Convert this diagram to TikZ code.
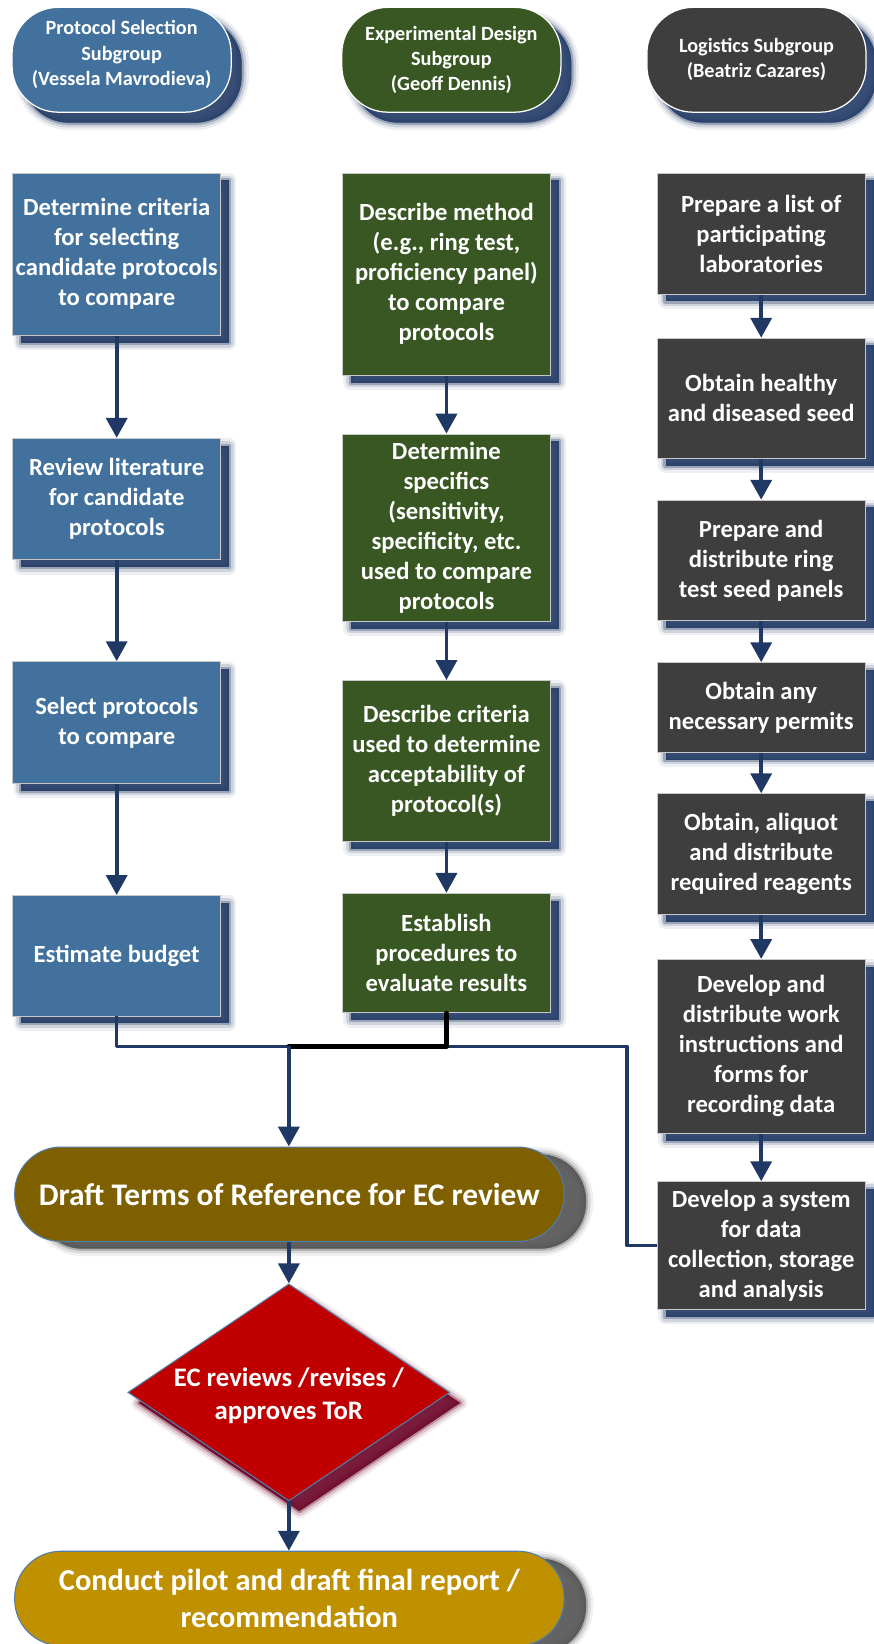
\documentclass[tikz,border=0pt]{standalone}
\usepackage{fontspec}
\setmainfont{Carlito}
\usetikzlibrary{shapes.geometric,shadows,arrows.meta}
\definecolor{blueF}{RGB}{65,113,156}
\definecolor{greenF}{RGB}{56,87,35}
\definecolor{grayF}{RGB}{62,62,62}
\definecolor{navy}{RGB}{31,56,100}
\definecolor{draftF}{RGB}{127,96,0}
\definecolor{redF}{RGB}{192,0,0}
\definecolor{finalF}{RGB}{191,144,0}
\definecolor{shGray}{RGB}{80,80,80}
\definecolor{shRed}{RGB}{105,0,35}
\definecolor{edgeBlue}{RGB}{80,125,170}
\definecolor{boxEdge}{RGB}{200,200,200}
\tikzset{
  softshadow/.style n args={3}{
    general shadow={shadow xshift=#2, shadow yshift=#3, fill=#1, draw=#1, line width=14pt, opacity=0.08, line join=round},
    general shadow={shadow xshift=#2, shadow yshift=#3, fill=#1, draw=#1, line width=9pt, opacity=0.15, line join=round},
    general shadow={shadow xshift=#2, shadow yshift=#3, fill=#1, draw=#1, line width=4pt, opacity=0.3, line join=round},
    general shadow={shadow xshift=#2, shadow yshift=#3, fill=#1, draw=none, opacity=0.8}
  },
  stepbox/.style={rectangle, draw=boxEdge, line width=0.8pt, text=white,
    font=\bfseries\fontsize{23.5}{28.6}\selectfont, align=center, inner sep=0pt,
    minimum width=198.5pt, softshadow={navy}{8pt}{-7pt}},
  hdr/.style={rectangle, rounded corners=44pt, draw=white, line width=1.2pt, text=white,
    font=\bfseries\fontsize{19.3}{24}\selectfont, align=center, inner sep=0pt,
    minimum width=209pt, minimum height=100pt, softshadow={navy}{10pt}{-10pt}},
  term/.style={rectangle, rounded corners=44pt, draw=edgeBlue, line width=1pt, text=white,
    align=center, inner sep=0pt, minimum width=524pt, minimum height=90pt,
    softshadow={shGray}{21pt}{-7pt}},
  decision/.style={diamond, draw=edgeBlue, line width=1pt, fill=redF, inner sep=0pt,
    minimum width=307pt, minimum height=207pt, softshadow={shRed}{10pt}{-10pt}},
  dtxt/.style={text=white, font=\bfseries\fontsize{25.5}{31}\selectfont, align=center, inner sep=0pt},
  arr/.style={draw=navy, line width=3.6pt, -{Triangle[length=19pt,width=20pt]}},
  conn/.style={draw=navy, line width=3.2pt, line join=round},
  blk/.style={draw=black, line width=4.5pt, line join=round, line cap=round}
}
\begin{document}
\begin{tikzpicture}[x=1pt,y=-1pt]
\useasboundingbox[fill=white] (0,0) rectangle (833,1568);

% headers
\node[hdr, fill=blueF] (H1) at (116,57) {Protocol Selection\\Subgroup\\(Vessela Mavrodieva)\\[-11pt]\mbox{}};
\node[hdr, fill=greenF] (H2) at (430.5,57) {Experimental Design\\Subgroup\\(Geoff Dennis)};
\node[hdr, fill=grayF] (H3) at (721.5,57) {Logistics Subgroup\\(Beatriz Cazares)};

% left column
\node[stepbox, fill=blueF, minimum height=155pt] (L1) at (111.3,242.5) {Determine criteria\\for selecting\\candidate protocols\\to compare};
\node[stepbox, fill=blueF, minimum height=116pt] (L2) at (111.3,476) {Review literature\\for candidate\\protocols};
\node[stepbox, fill=blueF, minimum height=116pt] (L3) at (111.3,689) {Select protocols\\to compare};
\node[stepbox, fill=blueF, minimum height=115pt] (L4) at (111.3,911.5) {Estimate budget};

% middle column
\node[stepbox, fill=greenF, minimum height=193pt] (M1) at (425.8,261.5) {Describe method\\(e.g., ring test,\\proficiency panel)\\to compare\\protocols};
\node[stepbox, fill=greenF, minimum height=178.5pt] (M2) at (425.8,503.25) {Determine\\specifics\\(sensitivity,\\specificity, etc.\\used to compare\\protocols};
\node[stepbox, fill=greenF, minimum height=153.5pt] (M3) at (425.8,725.75) {Describe criteria\\used to determine\\acceptability of\\protocol(s)};
\node[stepbox, fill=greenF, minimum height=114pt] (M4) at (425.8,909) {Establish\\procedures to\\evaluate results};

% right column
\node[stepbox, fill=grayF, minimum height=115.5pt] (R1) at (726,222.75) {Prepare a list of\\participating\\laboratories};
\node[stepbox, fill=grayF, minimum height=114.5pt] (R2) at (726,379.75) {Obtain healthy\\and diseased seed};
\node[stepbox, fill=grayF, minimum height=115pt] (R3) at (726,534.5) {Prepare and\\distribute ring\\test seed panels};
\node[stepbox, fill=grayF, minimum height=85.5pt] (R4) at (726,674.75) {Obtain any\\necessary permits};
\node[stepbox, fill=grayF, minimum height=115pt] (R5) at (726,814.5) {Obtain, aliquot\\and distribute\\required reagents};
\node[stepbox, fill=grayF, minimum height=166pt] (R6) at (726,998) {Develop and\\distribute work\\instructions and\\forms for\\recording data};
\node[stepbox, fill=grayF, minimum height=122pt] (R7) at (726,1188) {Develop a system\\for data\\collection, storage\\and analysis};

% bottom flow
\node[term, fill=draftF, font=\bfseries\fontsize{30}{36}\selectfont] (D) at (276,1139) {Draft Terms of Reference for EC review};
\node[decision] (X) at (275.5,1328) {};
\node[dtxt] (Xt) at (275.5,1331) {EC reviews /revises /\\approves ToR};
\node[term, fill=finalF, font=\bfseries\fontsize{29}{35}\selectfont] (F) at (276,1524.5) {Conduct pilot and draft final report /\\recommendation};

% arrows within columns
\draw[arr] (L1) -- (L2);
\draw[arr] (L2) -- (L3);
\draw[arr] (L3) -- (L4);
\draw[arr] (M1) -- (M2);
\draw[arr] (M2) -- (M3);
\draw[arr] (M3) -- (M4);
\draw[arr] (R1) -- (R2);
\draw[arr] (R2) -- (R3);
\draw[arr] (R3) -- (R4);
\draw[arr] (R4) -- (R5);
\draw[arr] (R5) -- (R6);
\draw[arr] (R6) -- (R7);

% merge
\coordinate (jL) at (111.3,998);
\coordinate (jR) at (598,998);
\coordinate (jT) at (275.5,998);
\coordinate (jM) at (425.8,998);
\draw[conn] (L4.south) -- (jL) -- (jR) |- (R7.west);
\draw[blk] (M4.south) -- (jM) -- (jT);
\draw[arr] (jT) -- (jT |- D.north);
\draw[arr] (D.south -| X.north) -- (X.north);
\draw[arr] (X.south) -- (X.south |- F.north);
\end{tikzpicture}
\end{document}
